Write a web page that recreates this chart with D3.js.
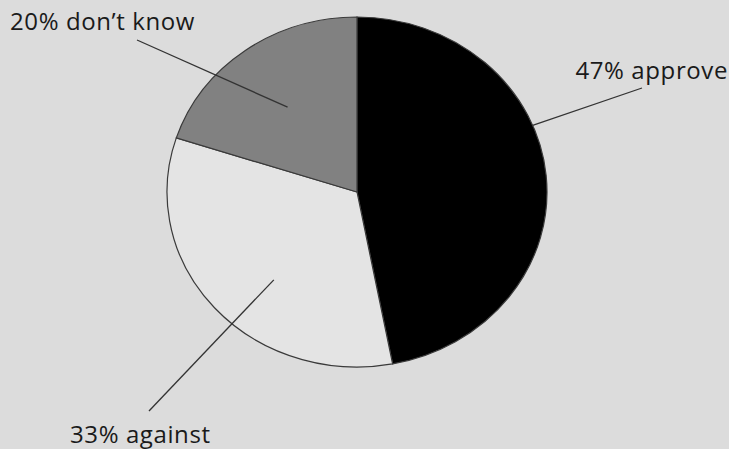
<!DOCTYPE html>
<meta charset="utf-8">
<style>
body { margin: 0; background: #dcdcdc; }
svg { display: block; }
text {
  font-family: "Open Sans", sans-serif;
  font-size: 24px;
  letter-spacing: 0.6px;
  fill: #1a1a1a;
}
.slices path {
  stroke: #3a3a3a;
  stroke-width: 1.2px;
  vector-effect: non-scaling-stroke;
}
.leaders line {
  stroke: #333;
  stroke-width: 1.3px;
}
</style>
<svg width="729" height="449"></svg>
<script src="https://d3js.org/d3.v7.min.js"></script>
<script>

var categories = ["approve", "against", "don\u2019t know"];
var values = [47, 33, 20];
var fills = ["#000000", "#e4e4e4", "#818181"];

var svg = d3.select("svg"),
    width = +svg.attr("width"),
    height = +svg.attr("height");

svg.append("rect").attr("width", width).attr("height", height).attr("fill", "#dcdcdc");

// the pie is drawn a bit wider than tall
var cx = 357, cy = 192, ry = 175, rx = 190;

var data = values.map(function(v, i) { return {name: categories[i], value: v, fill: fills[i]}; });

var pie = d3.pie().sort(null).value(function(d) { return d.value; });
var arcs = pie(data);

var arc = d3.arc().innerRadius(0).outerRadius(ry);

svg.append("g")
    .attr("class", "slices")
    .attr("transform", "translate(" + cx + "," + cy + ") scale(" + (rx / ry) + ",1)")
  .selectAll("path")
  .data(arcs)
  .enter().append("path")
    .attr("d", arc)
    .attr("fill", function(d) { return d.data.fill; });

// leader line: inner end (angle offset from slice middle, radius fraction), label spot
var labelLayout = [
  {da: -17, r: 1.0, x2: 642, y2: 88, tx: 728, ty: 79, anchor: "end"},
  {da: -7.5, r: 0.666, x2: 149, y2: 411, tx: 70, ty: 443, anchor: "start"},
  {da: -1, r: 0.607, x2: 137, y2: 40, tx: 10, ty: 30, anchor: "start"}
];

function pt(angle, r) {
  return [cx + Math.sin(angle) * r * rx, cy - Math.cos(angle) * r * ry];
}

var leaders = svg.append("g").attr("class", "leaders");
arcs.forEach(function(d, i) {
  var L = labelLayout[i];
  var mid = (d.startAngle + d.endAngle) / 2 + L.da * Math.PI / 180;
  var p = pt(mid, L.r);
  leaders.append("line")
      .attr("x1", p[0]).attr("y1", p[1])
      .attr("x2", L.x2).attr("y2", L.y2);
  svg.append("text")
      .attr("x", L.tx)
      .attr("y", L.ty)
      .attr("text-anchor", L.anchor)
      .text(d.value + "% " + d.data.name);
});

</script>
